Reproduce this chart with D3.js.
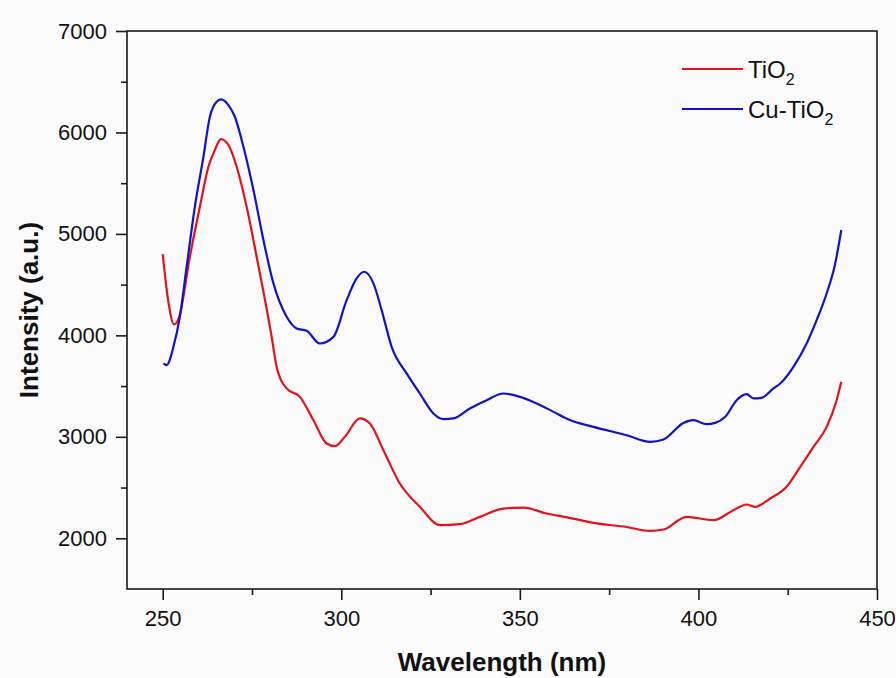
<!doctype html>
<html lang="en">
<head>
<meta charset="UTF-8">
<title>Intensity vs Wavelength</title>
<style>
  html, body { margin: 0; padding: 0; background: #fbfbfb; }
  svg { display: block; font-family: 'Liberation Sans', Arial, sans-serif; }
</style>
</head>
<body>
<svg width="896" height="678"></svg>
<script src="https://d3js.org/d3.v7.min.js"></script>
<script>
  // values
  const tioWl = [250, 251.5, 253.2, 254.6, 257.6, 260.4, 262.8, 264.6, 266.3, 268.4, 270.7, 273.5, 276.3, 280.5, 281.9, 284.7,
    288.4, 292.2, 295.9, 298.2, 301, 305.2, 308, 311.8, 316.4, 322, 327.6, 333.2, 338.8, 345.4, 351, 357.5, 363.6, 370.6,
    379.9, 386.5, 390.2, 396.7, 404.2, 409.8, 413.5, 415.9, 420.1, 424.7, 428.5, 432.2, 435.9, 438.7, 440]
  const tioI = [4800, 4350, 4108, 4180, 4775, 5268, 5662, 5827, 5935, 5876, 5662, 5268, 4775, 3986, 3690, 3477,
    3394, 3164, 2934, 2908, 3000, 3181, 3131, 2868, 2540, 2310, 2129, 2139, 2211, 2293, 2303, 2244, 2204, 2151,
    2111, 2072, 2086, 2211, 2178, 2277, 2333, 2310, 2392, 2507, 2704, 2901, 3098, 3361, 3542]

  const cuWl = [250.2, 251.1, 253, 254.8, 256.6, 259, 261.4, 263.2, 265.1, 266.3, 268.4, 270.2, 272.6, 275.4, 278.2,
    281, 284.7, 287.5, 290.3, 294, 297.8, 301.5, 304.3, 306.4, 309, 311.3, 314.1, 318.3, 322, 325.8, 328.6, 331.4, 336,
    340.7, 345.4, 350, 354.7, 359.4, 363.6, 370.6, 379.9, 386.5, 390.2, 395.8, 398.6, 402.3, 404.7, 407.5, 410.7, 413.5,
    415.4, 417.7, 421, 422.9, 426.6, 430.3, 433.1, 435.9, 438.3, 440]
  const cuI = [3723, 3707, 3887, 4183, 4650, 5268, 5761, 6155, 6303, 6326, 6270, 6155, 5859, 5432, 4939,
    4512, 4183, 4068, 4045, 3920, 3985, 4347, 4561, 4627, 4512, 4249, 3887, 3625, 3427, 3230, 3174, 3181, 3279,
    3361, 3427, 3394, 3329, 3246, 3171, 3098, 3016, 2950, 2973, 3137, 3164, 3125, 3137, 3197, 3361, 3421,
    3378, 3384, 3477, 3526, 3690, 3920, 4150, 4413, 4709, 5038]

  const xTicks = [250, 300, 350, 400, 450]
  const yTicks = [2000, 3000, 4000, 5000, 6000, 7000]
  const seriesNames = ['TiO', 'Cu-TiO']
  const seriesColors = ['#e3121b', '#1212c8']

  const svg = d3.select('svg')
  const plotLeft = 127, plotRight = 877, plotTop = 31, plotBottom = 589

  const x = d3.scaleLinear().domain([240, 450]).range([plotLeft, plotRight])
  const y = d3.scaleLinear().domain([1500, 7000]).range([plotBottom, plotTop])

  const series = [
    tioWl.map((w, i) => [w, tioI[i]]),
    cuWl.map((w, i) => [w, cuI[i]])
  ]

  const line = d3.line()
    .x(d => x(d[0]))
    .y(d => y(d[1]))
    .curve(d3.curveMonotoneX)

  // curves
  svg.append('g')
    .selectAll('path')
    .data(series)
    .enter()
    .append('path')
    .attr('d', line)
    .attr('fill', 'none')
    .attr('stroke', (d, i) => seriesColors[i])
    .attr('stroke-width', 2.2)
    .attr('stroke-linejoin', 'round')

  // frame
  svg.append('rect')
    .attr('x', plotLeft).attr('y', plotTop)
    .attr('width', plotRight - plotLeft).attr('height', plotBottom - plotTop)
    .attr('fill', 'none')
    .attr('stroke', '#1a1a1a')
    .attr('stroke-width', 1.6)

  // bottom axis
  svg.append('g')
    .attr('transform', `translate(0,${plotBottom})`)
    .call(d3.axisBottom(x).tickValues(xTicks).tickSize(11).tickPadding(10).tickFormat(d3.format('d')))
    .select('.domain').remove()

  svg.append('g')
    .attr('transform', `translate(0,${plotBottom})`)
    .call(d3.axisBottom(x).tickValues(d3.range(275, 450, 50)).tickSize(6).tickFormat(''))
    .select('.domain').remove()

  // left axis
  svg.append('g')
    .attr('transform', `translate(${plotLeft},0)`)
    .call(d3.axisLeft(y).tickValues(yTicks).tickSize(11).tickPadding(9).tickFormat(d3.format('d')))
    .select('.domain').remove()

  svg.append('g')
    .attr('transform', `translate(${plotLeft},0)`)
    .call(d3.axisLeft(y).tickValues(d3.range(2500, 7000, 1000)).tickSize(6).tickFormat(''))
    .select('.domain').remove()

  svg.selectAll('.tick line').attr('stroke', '#1a1a1a').attr('stroke-width', 1.6)
  svg.selectAll('.tick text')
    .attr('fill', '#111')
    .style('font-size', '22px')
    .style('font-family', "'Liberation Sans', Arial, sans-serif")

  // axis titles
  svg.append('text')
    .attr('x', (plotLeft + plotRight) / 2)
    .attr('y', 671)
    .attr('text-anchor', 'middle')
    .style('font-size', '26px')
    .style('font-weight', 'bold')
    .attr('fill', '#111')
    .text('Wavelength (nm)')

  svg.append('text')
    .attr('transform', `translate(38,${(plotTop + plotBottom) / 2}) rotate(-90)`)
    .attr('text-anchor', 'middle')
    .style('font-size', '26px')
    .style('font-weight', 'bold')
    .attr('fill', '#111')
    .text('Intensity (a.u.)')

  // legend
  const legend = svg.append('g').attr('transform', 'translate(682,69)')
  const item = legend.selectAll('g')
    .data(seriesNames)
    .enter()
    .append('g')
    .attr('transform', (d, i) => `translate(0,${i * 40})`)

  item.append('line')
    .attr('x1', 0).attr('x2', 61)
    .attr('stroke', (d, i) => seriesColors[i])
    .attr('stroke-width', 2.2)

  const label = item.append('text')
    .attr('x', 66)
    .attr('y', 9)
    .style('font-size', '24px')
    .attr('fill', '#111')
  label.append('tspan').text(d => d)
  label.append('tspan')
    .attr('dy', 7)
    .style('font-size', '16px')
    .text('2')
</script>
</body>
</html>
